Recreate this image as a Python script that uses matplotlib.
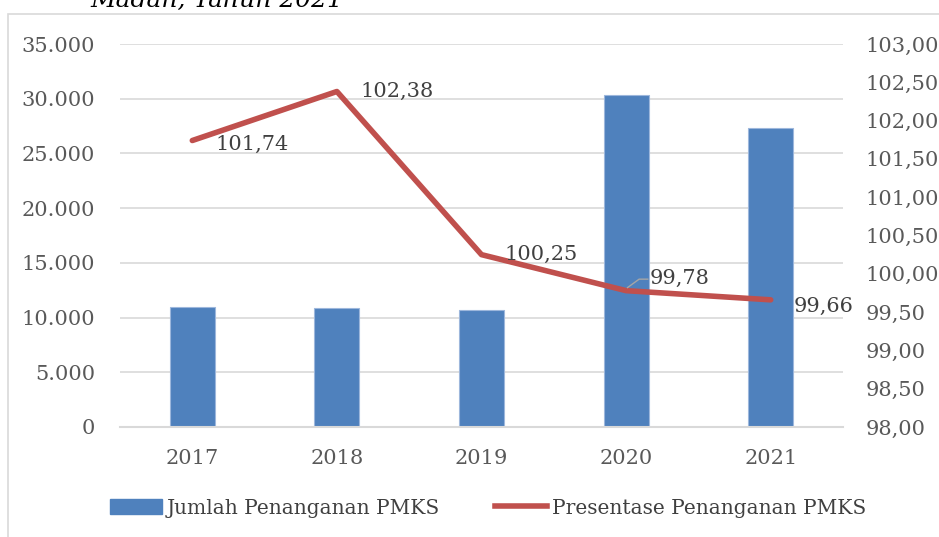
import numpy as np
import matplotlib.pyplot as plt
from matplotlib.patches import Rectangle

years = ['2017', '2018', '2019', '2020', '2021']
jumlah = [10950, 10860, 10730, 30330, 27320]
persen = [101.74, 102.38, 100.25, 99.78, 99.66]
persen_lbl = ['101,74', '102,38', '100,25', '99,78', '99,66']

plt.rcParams['font.family'] = ['DejaVu Serif']

fig = plt.figure(figsize=(9.39, 5.37), dpi=100)
ax = fig.add_axes([120/939, 1-427/537, 723/939, 383/537])
ax2 = ax.twinx()

x = np.arange(len(years))
ax.bar(x, jumlah, width=0.31, color='#4f81bd', edgecolor='#9db7dc', linewidth=0.8, zorder=2)
ax.set_xlim(-0.5, 4.5)
ax.set_ylim(0, 35000)
ax.set_yticks(np.arange(0, 35001, 5000))
ax.set_yticklabels([f'{v:,}'.replace(',', '.') for v in range(0, 35001, 5000)])
ax.set_xticks(x)
ax.set_xticklabels(years)
ax.grid(axis='y', color='#d9d9d9', linewidth=1.2, zorder=0)
ax.set_axisbelow(True)

ax2.plot(x, persen, color='#c0504d', linewidth=4, solid_capstyle='round', zorder=3)
ax2.set_ylim(98, 103)
ax2.set_yticks(np.arange(98, 103.01, 0.5))
ax2.set_yticklabels([f'{v:.2f}'.replace('.', ',') for v in np.arange(98, 103.01, 0.5)])

for a in (ax, ax2):
    for s in a.spines.values():
        s.set_visible(False)
    a.tick_params(length=0, labelsize=15, colors='#595959')
ax.tick_params(axis='y', pad=18)
ax.tick_params(axis='x', pad=16)
ax2.tick_params(axis='y', pad=16)
ax.spines['bottom'].set_visible(True)
ax.spines['bottom'].set_color('#d9d9d9')
ax.spines['bottom'].set_linewidth(1.5)

# label offsets (category units, percent units)
dys = [-0.05, 0.0, 0.0, 0.16, -0.09]
for i, (v, t) in enumerate(zip(persen, persen_lbl)):
    ax2.text(i + 0.16, v + dys[i], t, fontsize=15,
             color='#404040', ha='left', va='center', zorder=4)
# leader line for 99,78
ax2.plot([3.01, 3.09, 3.15], [99.82, 99.93, 99.93], color='#a6a6a6', linewidth=1, zorder=4)

h1 = plt.Rectangle((0, 0), 1, 1, color='#4f81bd')
h2, = ax.plot([], [], color='#c0504d', linewidth=4)
fig.legend([h1, h2], ['Jumlah Penanganan PMKS', 'Presentase Penanganan PMKS'],
           loc='center', bbox_to_anchor=(488/939, 1-508/537), ncol=2, frameon=False,
           fontsize=14.5, handlelength=2.6, handletextpad=0.25, columnspacing=2.7,
           labelcolor='#404040')

fig.patches.append(Rectangle((8/939, -0.1), 1, 1-14/537 + 0.1, transform=fig.transFigure,
                             fill=False, edgecolor='#d9d9d9', linewidth=1.2))
fig.text(90/939, 1.0, 'Madan, Tahun 2021', fontsize=18, style='italic', color='black',
         va='center', ha='left')

fig.savefig('out.png', dpi=100)
